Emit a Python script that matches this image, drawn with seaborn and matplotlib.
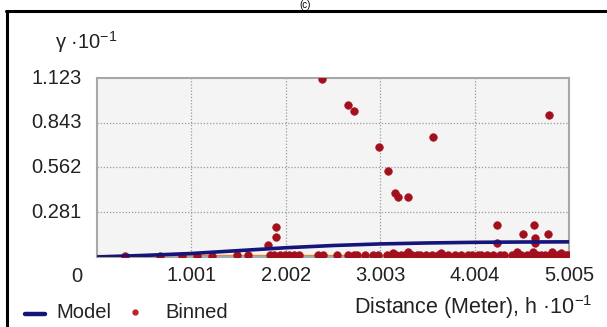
import numpy as np
import pandas as pd
import matplotlib
matplotlib.use("Agg")
import matplotlib.pyplot as plt
import seaborn as sns
from matplotlib.lines import Line2D

sns.set_theme(style="white")
plt.rcParams['font.family'] = ['Liberation Sans', 'DejaVu Sans']

# ---- data (display units: x in h*10^-1, y in gamma*10^-1) ----
x_ticks = [1.001, 2.002, 3.003, 4.004, 5.005]
x_tick_labels = ["1.001", "2.002", "3.003", "4.004", "5.005"]
y_ticks = [0.281, 0.562, 0.843, 1.123]
y_tick_labels = ["0.281", "0.562", "0.843", "1.123"]

model_x = [0.0, 0.5, 1.0, 1.5, 2.0, 2.5, 3.0, 3.5, 4.0, 4.5, 5.005]
model_y = [0.0, 0.010, 0.022, 0.040, 0.058, 0.072, 0.082, 0.088, 0.092, 0.094, 0.095]

high_x = [2.386, 2.662, 2.725, 2.99, 3.086, 3.16, 3.19, 3.30, 3.563, 4.79,
          4.24, 4.63, 4.52, 4.78, 4.64, 1.898, 1.898, 1.81, 4.64, 4.24]
high_y = [1.117, 0.954, 0.916, 0.69, 0.54, 0.40, 0.376, 0.376, 0.753, 0.89,
          0.20, 0.20, 0.144, 0.144, 0.12, 0.19, 0.125, 0.075, 0.088, 0.085]

low_x = [0.297, 0.668, 0.90, 1.06, 1.22, 1.485, 1.60,
         1.83, 1.88, 1.94, 1.99, 2.04, 2.09, 2.14,
         2.34, 2.40, 2.55, 2.66, 2.72, 2.76, 2.84, 2.93, 2.98,
         3.07, 3.12, 3.17, 3.22, 3.27, 3.34, 3.39, 3.43, 3.49, 3.55,
         3.62, 3.67, 3.72, 3.80, 3.86, 3.93, 3.98, 4.04, 4.07, 4.14,
         4.20, 4.27, 4.32, 4.40, 4.45, 4.50, 4.56, 4.61, 4.67, 4.71,
         4.75, 4.80, 4.84, 4.88, 4.93, 4.97, 4.99,
         3.14, 3.30, 3.65, 4.45, 4.62, 4.83, 4.92]
low_y = [0.008, 0.008, 0.008, 0.008, 0.008, 0.01, 0.01,
         0.012, 0.012, 0.012, 0.012, 0.012, 0.012, 0.012,
         0.012, 0.012, 0.012, 0.012, 0.012, 0.012, 0.012, 0.012, 0.012,
         0.012, 0.012, 0.012, 0.012, 0.012, 0.012, 0.012, 0.012, 0.012, 0.012,
         0.012, 0.012, 0.012, 0.012, 0.012, 0.012, 0.012, 0.012, 0.012, 0.012,
         0.012, 0.012, 0.012, 0.012, 0.012, 0.012, 0.012, 0.012, 0.012, 0.012,
         0.012, 0.012, 0.012, 0.012, 0.012, 0.012, 0.012,
         0.028, 0.03, 0.028, 0.03, 0.03, 0.03, 0.028]

binned = pd.DataFrame({"x": high_x + low_x, "y": high_y + low_y})
model = pd.DataFrame({"x": model_x, "y": model_y})

fig = plt.figure(figsize=(6.07, 3.27), dpi=100)
ax = fig.add_axes([97/607, 1-257/327, 472/607, 179/327])
ax.set_facecolor("#f4f4f4")

# orange base line
ax.plot([0, 5.005], [0.012, 0.012], color="#d98c3a", lw=1.0, zorder=2)

sns.scatterplot(data=binned, x="x", y="y", ax=ax, color="#a30f1c",
                s=32, edgecolor="#a30f1c", linewidth=0.3, zorder=3, legend=False)
sns.lineplot(data=model, x="x", y="y", ax=ax, color="#14147a", lw=2.6,
             zorder=4, legend=False)

ax.set_xlim(0, 5.005)
ax.set_ylim(0, 1.123)
ax.set_xticks(x_ticks[:-1])
ax.set_yticks(y_ticks[:-1])
ax.grid(True, color="#9a9a9a", linestyle=(0, (1, 1.5)), lw=0.9)
ax.set_xticklabels([])
ax.set_yticklabels([])
ax.tick_params(length=0)
ax.set_xlabel("")
ax.set_ylabel("")
for s in ax.spines.values():
    s.set_color("#a8a8a8")
    s.set_linewidth(1.5)

fs = 14.5
tc = "#222222"
# x tick labels
for xv, lab in zip(x_ticks, x_tick_labels):
    ax.annotate(lab, xy=(xv, 0), xycoords=("data", "axes fraction"),
                xytext=(0, -13.5), textcoords="offset points",
                ha="center", va="center", fontsize=fs, color=tc)
# y tick labels incl. top
for yv, lab in zip(y_ticks, y_tick_labels):
    ax.annotate(lab, xy=(0, yv), xycoords=("axes fraction", "data"),
                xytext=(-11, 0), textcoords="offset points",
                ha="right", va="center", fontsize=fs, color=tc)
# origin label
fig.text(77/607, 1-276/327, "0", ha="center", va="center", fontsize=fs, color=tc)

# axis titles
fig.text(55/607, 1-42/327, r"γ ·10$^{\mathregular{-1}}$", ha="left", va="center",
         fontsize=fs, color=tc)
fig.text(592/607, 1-307/327, r"Distance (Meter), h ·10$^{\mathregular{-1}}$",
         ha="right", va="center", fontsize=15.5, color=tc)

# legend
fig.add_artist(Line2D([25/607, 45/607], [1-314/327, 1-314/327], color="#14147a",
                      lw=3.2, transform=fig.transFigure))
fig.text(56/607, 1-313/327, "Model", ha="left", va="center", fontsize=fs, color=tc)
fig.add_artist(Line2D([135/607], [1-312/327], marker="o", color="#c0202a",
                      markersize=3.5, lw=0, transform=fig.transFigure))
fig.text(165/607, 1-313/327, "Binned", ha="left", va="center", fontsize=fs, color=tc)

# frame
fig.add_artist(Line2D([6/607, 1.0], [1-11/327, 1-11/327], color="black", lw=2.2,
                      transform=fig.transFigure))
fig.add_artist(Line2D([7/607, 7/607], [0, 1-11/327], color="black", lw=2.2,
                      transform=fig.transFigure))
# title (small, fits above the frame)
fig.text(305/607, 1-4.5/327, "(c)", ha="center", va="center", fontsize=7, color="black")

fig.savefig("out.png", dpi=100)
